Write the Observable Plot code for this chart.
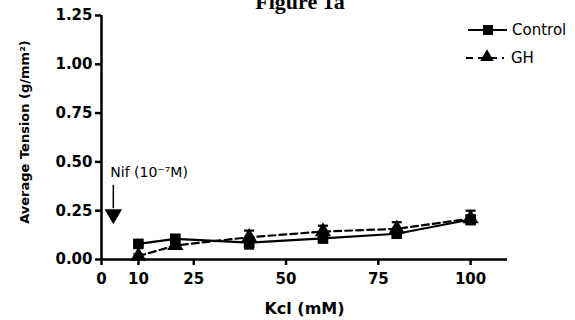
<!DOCTYPE html>
<html>
<head>
<meta charset="utf-8">
<script src="https://cdn.jsdelivr.net/npm/d3@7"></script>
<script src="https://cdn.jsdelivr.net/npm/@observablehq/plot@0.6"></script>
<style>
  html, body { margin: 0; padding: 0; background: #fff; }
  #chart { width: 575px; height: 320px; overflow: hidden; }
</style>
</head>
<body>
<div id="chart"></div>
<script>
// ---- data ----
const kcl = [10, 20, 40, 60, 80, 100];
const control = [0.080, 0.106, 0.086, 0.108, 0.132, 0.205];
const controlErr = [0.008, 0.010, 0.030, 0.020, 0.020, 0.025];
const gh = [0.017, 0.072, 0.114, 0.143, 0.157, 0.210];
const ghErr = [0.010, 0.012, 0.034, 0.030, 0.034, 0.040];
const xTicks = [0, 10, 25, 50, 75, 100];
const yTicks = [0, 0.25, 0.5, 0.75, 1.0, 1.25];
const seriesNames = ["Control", "GH"];
const arrowX = 3.2;            // Nif application marker (mM axis)
const arrowY = [0.38, 0.22];   // start / tip
const noteText = "Nif (10\u207B\u2077M)";
const titleText = "Figure 1a";
const xLabel = "Kcl (mM)";
const yLabel = "Average Tension (g/mm\u00B2)";

const controlRows = kcl.map((k, i) => ({k, v: control[i], lo: control[i] - controlErr[i], hi: control[i]}));
const ghRows = kcl.map((k, i) => ({k, v: gh[i], lo: gh[i], hi: gh[i] + ghErr[i]}));

const capSymbol = {
  draw(ctx, size) {
    const r = Math.sqrt(size / Math.PI);
    ctx.moveTo(-r, 0); ctx.lineTo(r, 0);
  }
};

const font = "DejaVu Sans";
const chart = Plot.plot({
  width: 575, height: 320,
  marginLeft: 101, marginRight: 68, marginTop: 15, marginBottom: 61,
  x: {domain: [0, 110]},
  y: {domain: [0, 1.25]},
  style: {fontFamily: font, fontSize: "14px", color: "#000", background: "#fff"},
  marks: [
    Plot.ruleY([0], {strokeWidth: 2.5}),
    Plot.ruleX([0], {strokeWidth: 2.5}),
    Plot.axisX({ticks: xTicks, tickFormat: d => String(d), tickSize: 6, tickPadding: 8,
      strokeWidth: 2.5, fontWeight: "bold", fontSize: 15, label: null}),
    Plot.axisY({ticks: yTicks, tickFormat: d3.format(".2f"), tickSize: 6, tickPadding: 3,
      strokeWidth: 2.5, fontWeight: "bold", fontSize: 15, label: null}),
    Plot.text([xLabel], {frameAnchor: "bottom", dy: 54, fontWeight: "bold", fontSize: 16}),
    // error bars
    Plot.ruleX(ghRows, {x: "k", y1: "lo", y2: "hi", strokeWidth: 2}),
    Plot.dot(ghRows, {x: "k", y: "hi", symbol: capSymbol, r: 5, stroke: "black", strokeWidth: 2.2}),
    Plot.ruleX(controlRows, {x: "k", y1: "lo", y2: "hi", strokeWidth: 2}),
    Plot.dot(controlRows, {x: "k", y: "lo", symbol: capSymbol, r: 5, stroke: "black", strokeWidth: 2.2}),
    // lines
    Plot.line(ghRows, {x: "k", y: "v", strokeWidth: 2.2, strokeDasharray: "7,4"}),
    Plot.line(controlRows, {x: "k", y: "v", strokeWidth: 2.2}),
    Plot.dot(ghRows, {x: "k", y: "v", symbol: "triangle", r: 6, fill: "black"}),
    Plot.dot(controlRows, {x: "k", y: "v", symbol: "square", r: 6, fill: "black"}),
    // Nif annotation
    Plot.text([noteText], {x: arrowX, y: 0.445, textAnchor: "start", dx: -3, fontSize: 14}),
    Plot.ruleX([arrowX], {y1: arrowY[0], y2: 0.26, strokeWidth: 1.5}),
    Plot.dot([arrowX], {x: d => d, y: () => 0.232, symbol: "triangle", r: 6.5, rotate: 180, fill: "black"})
  ]
});

const svg = d3.select(chart);
// y axis title
svg.append("text").attr("transform", "translate(24,132) rotate(-90)")
  .attr("text-anchor", "middle").attr("dy", "0.35em")
  .attr("font-family", font).attr("font-weight", "bold").attr("font-size", 13)
  .text(yLabel);
// title (cut at top like the reference)
svg.append("text").attr("x", 300).attr("y", 9).attr("text-anchor", "middle")
  .attr("font-family", "Liberation Serif").attr("font-weight", "bold").attr("font-size", 22)
  .text(titleText);
// legend
const lg = svg.append("g").attr("font-family", font).attr("font-size", 15).attr("text-anchor", "start");
lg.append("line").attr("x1", 468).attr("x2", 507).attr("y1", 30).attr("y2", 30)
  .attr("stroke", "black").attr("stroke-width", 2.2);
lg.append("path").attr("d", d3.symbol(d3.symbolSquare, 100)()).attr("transform", "translate(488,30)");
lg.append("text").attr("x", 512).attr("y", 30).attr("dy", "0.35em").text(seriesNames[0]);
lg.append("line").attr("x1", 466).attr("x2", 504).attr("y1", 58).attr("y2", 58)
  .attr("stroke", "black").attr("stroke-width", 2.2).attr("stroke-dasharray", "7,5");
lg.append("path").attr("d", d3.symbol(d3.symbolTriangle, 80)()).attr("transform", "translate(487,57)");
lg.append("text").attr("x", 511).attr("y", 58).attr("dy", "0.35em").text(seriesNames[1]);

document.getElementById("chart").appendChild(chart);
</script>
</body>
</html>
